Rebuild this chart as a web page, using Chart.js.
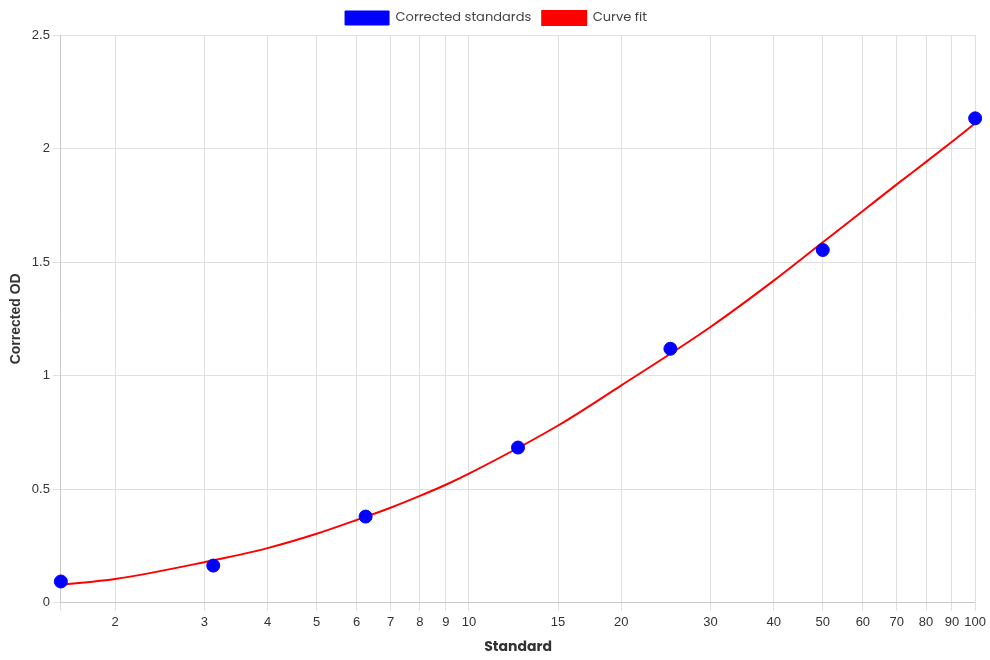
<!DOCTYPE html>
<html lang="en">
<head>
  <meta charset="UTF-8">
  <title>Standard curve</title>
  <script src="https://cdn.jsdelivr.net/npm/chart.js"></script>
  <style>
    html, body { margin: 0; padding: 0; background: white; }
    #wrap { width: 990px; height: 660px; }
  </style>
</head>
<body>
  <div id="wrap"><canvas id="stdChart"></canvas></div>

  <script>
    // measured standards
    const standards = [1.5625, 3.125, 6.25, 12.5, 25, 50, 100];
    const correctedOD = [0.093, 0.163, 0.379, 0.683, 1.118, 1.553, 2.133];

    // fitted curve
    const fitX = [1.5625, 2, 3, 4, 5, 6, 7, 8, 9, 10, 15, 20, 30, 40, 50, 60, 70, 80, 90, 100];
    const fitY = [0.079, 0.104, 0.178, 0.240, 0.303, 0.364, 0.418, 0.470, 0.519, 0.568, 0.780, 0.957, 1.214, 1.418, 1.587, 1.725, 1.842, 1.941, 2.030, 2.111];

    const xTickLabels = [2, 3, 4, 5, 6, 7, 8, 9, 10, 15, 20, 30, 40, 50, 60, 70, 80, 90, 100];

    const poppins = "Poppins, 'Open Sans', sans-serif";
    const arial = "'Liberation Sans', Arial, sans-serif";

    const ctx = document.getElementById('stdChart').getContext('2d');
    new Chart(ctx, {
      type: 'scatter',
      data: {
        datasets: [
          {
            label: 'Corrected standards',
            data: standards.map((x, i) => ({ x: x, y: correctedOD[i] })),
            backgroundColor: 'blue',
            borderColor: 'blue',
            pointRadius: 6.5,
            pointHoverRadius: 7,
            showLine: false,
            clip: false
          },
          {
            label: 'Curve fit',
            data: fitX.map((x, i) => ({ x: x, y: fitY[i] })),
            backgroundColor: 'red',
            borderColor: 'red',
            borderWidth: 2,
            pointRadius: 0,
            showLine: true,
            cubicInterpolationMode: 'monotone',
            clip: false
          }
        ]
      },
      options: {
        responsive: true,
        maintainAspectRatio: false,
        animation: false,
        layout: { padding: { left: 4, right: 2, top: 0, bottom: 0 } },
        plugins: {
          legend: {
            labels: {
              boxWidth: 44,
              boxHeight: 14,
              padding: 11,
              color: '#444',
              font: { family: poppins, size: 13 }
            }
          },
          tooltip: { enabled: false }
        },
        scales: {
          x: {
            type: 'logarithmic',
            min: 1.5625,
            max: 100,
            afterBuildTicks: function (scale) {
              scale.ticks = [1.5625].concat(xTickLabels).map(v => ({ value: v }));
            },
            title: {
              display: true,
              text: 'Standard',
              color: '#333',
              padding: { top: 5, bottom: 4 },
              font: { family: poppins, size: 14, weight: 'bold' }
            },
            ticks: {
              autoSkip: false,
              maxRotation: 0,
              padding: 4,
              color: '#333',
              font: { family: arial, size: 13 },
              callback: function (value) {
                return xTickLabels.includes(value) ? String(value) : '';
              }
            },
            grid: { color: '#e0e0e0' }
          },
          y: {
            min: 0,
            max: 2.5,
            ticks: {
              stepSize: 0.5,
              color: '#333',
              font: { family: arial, size: 13 },
              callback: function (value) {
                return String(Math.round(value * 10) / 10);
              }
            },
            title: {
              display: true,
              text: 'Corrected OD',
              color: '#333',
              font: { family: arial, size: 14, weight: 'bold' }
            },
            grid: { color: '#e0e0e0' }
          }
        }
      }
    });
  </script>
</body>
</html>
